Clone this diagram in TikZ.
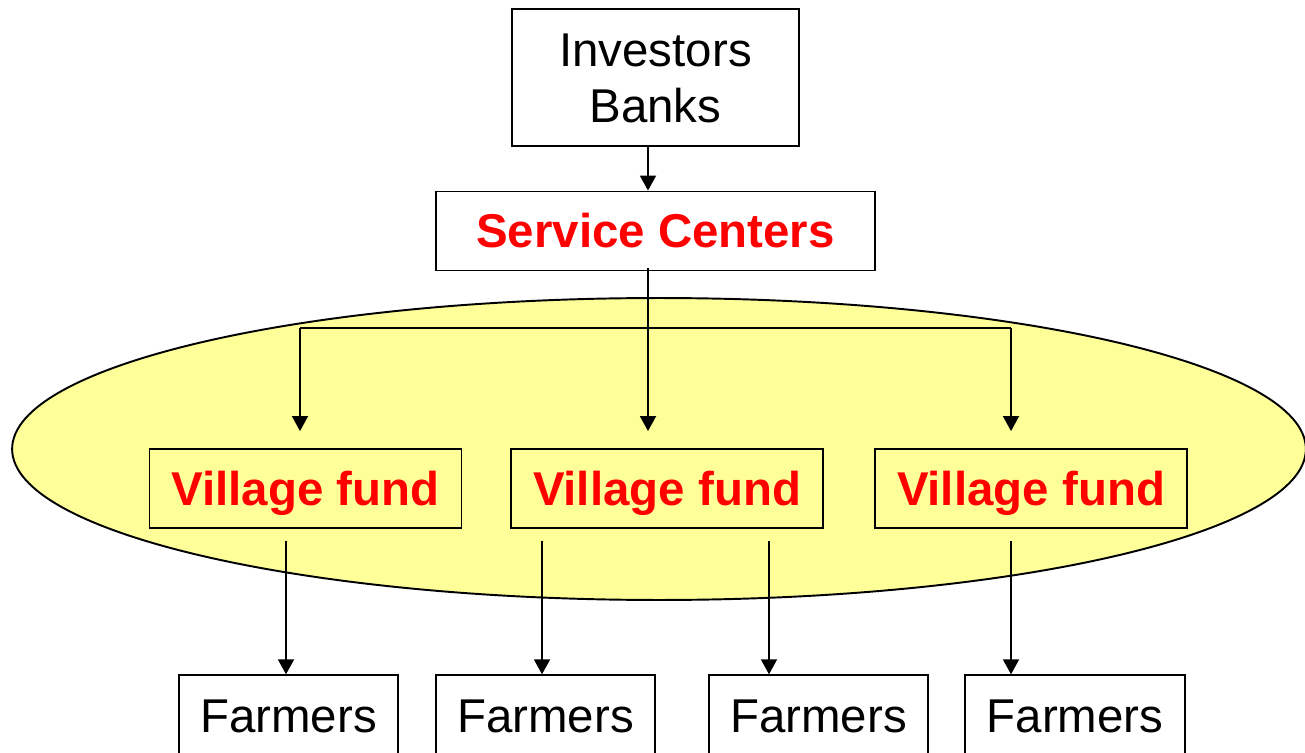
\documentclass[tikz,border=0pt]{standalone}
\usepackage{fontspec}
\setmainfont{Liberation Sans}
\usetikzlibrary{arrows.meta}
\definecolor{ellfill}{HTML}{FFFF99}
\definecolor{txtred}{HTML}{FF0000}
\tikzset{
  box/.style={draw=black, line width=1.1pt, inner sep=0pt, text height=19.3pt, text depth=0pt,
    font=\fontsize{27}{31.7}\selectfont},
  redbox/.style={box, text=txtred, font=\fontsize{27}{31.7}\selectfont\bfseries, minimum height=1.58cm},
  farmbox/.style={box, line width=0.8pt, minimum width=4.38cm, minimum height=1.62cm},
  conn/.style={line width=1.1pt},
  arr/.style={conn, -{Triangle[width=0.32cm,length=0.3cm]}}
}
\begin{document}
\begin{tikzpicture}[x=0.02cm,y=-0.02cm]
\clip (0,0) rectangle (1305,753);
\fill[white] (0,0) rectangle (1305,753);
% ellipse
\draw[line width=1.1pt, fill=ellfill] (659,449) ellipse [x radius=12.94cm, y radius=3.02cm];
% nodes
\node[box, align=center, minimum width=5.74cm, minimum height=2.74cm, text height=51pt] (inv) at (655.5,77.5) {Investors\\Banks};
\node[redbox, minimum width=8.78cm] (sc) at (655.5,231) {Service Centers};
\node[redbox, minimum width=6.24cm] (vf1) at (305.5,488.5) {Village fund};
\node[redbox, minimum width=6.24cm] (vf2) at (667,488.5) {Village fund};
\node[redbox, minimum width=6.24cm] (vf3) at (1031,488.5) {Village fund};
\node[farmbox] (f1) at (288.5,715.5) {Farmers};
\node[farmbox] (f2) at (545.5,715.5) {Farmers};
\node[farmbox] (f3) at (818.5,715.5) {Farmers};
\node[farmbox, minimum width=4.40cm] (f4) at (1075,715.5) {Farmers};
% helper coordinates
\coordinate (sx) at (648,0);
\coordinate (bl) at (300,328);
\coordinate (br) at (1011,328);
\coordinate (xa) at (286,0);
\coordinate (xb) at (542,0);
\coordinate (xc) at (769,0);
\coordinate (xd) at (1011,0);
% connectors
\draw[arr] (inv.south -| sx) -- (sc.north -| sx);
\draw[arr, shorten >=0.34cm] ([yshift=0.06cm]sc.south -| sx) -- (vf2.north -| sx);
\draw[conn] (bl) -- (br);
\draw[arr, shorten >=0.34cm] (bl) -- (vf1.north -| bl);
\draw[arr, shorten >=0.34cm] (br) -- (vf3.north -| br);
\draw[arr, shorten <=0.24cm] (vf1.south -| xa) -- (f1.north -| xa);
\draw[arr, shorten <=0.24cm] (vf2.south -| xb) -- (f2.north -| xb);
\draw[arr, shorten <=0.24cm] (vf2.south -| xc) -- (f3.north -| xc);
\draw[arr, shorten <=0.24cm] (vf3.south -| xd) -- (f4.north -| xd);
\end{tikzpicture}
\end{document}
